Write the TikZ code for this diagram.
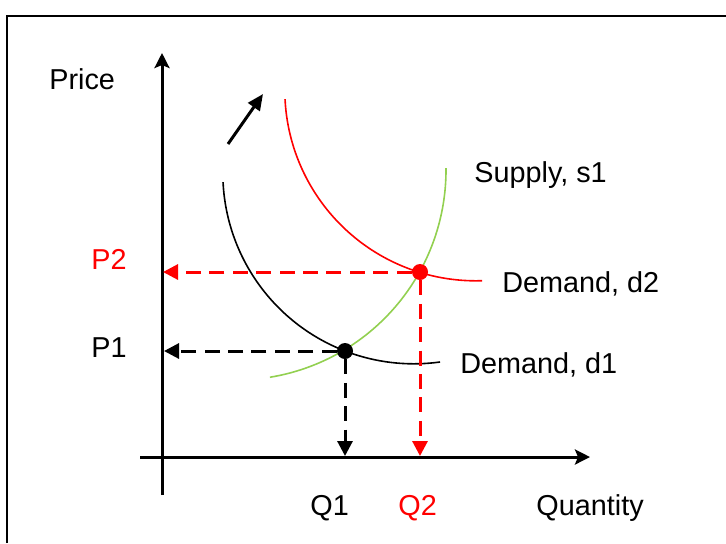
\documentclass[tikz,border=0pt]{standalone}
\usepackage{fontspec}
\setmainfont{Liberation Sans}
\usetikzlibrary{arrows.meta}
\definecolor{supplygreen}{RGB}{146,208,80}

\begin{document}
\begin{tikzpicture}[x=0.5pt, y=-0.5pt, font=\fontsize{14.4}{17}\selectfont,
  lbl/.style={anchor=base west, inner sep=0pt},
  axisline/.style={line width=1.5pt, -{Stealth[length=7.5pt, width=7.5pt, inset=1.5pt]}},
  guide/.style={line width=1.5pt, dash pattern=on 7.5pt off 4.2pt, -{Triangle[length=7.5pt, width=7.5pt]}},
  demandline/.style={line width=0.8pt},
  dot/.style={circle, fill, inner sep=0pt, minimum size=8pt}]
\useasboundingbox (0,0) rectangle (726,543);
\draw[line width=1.2pt] (7,543) -- (7,16) -- (726,16);
% axes
\coordinate (ybot) at (162,495);
\coordinate (ytop) at (162,53);
\coordinate (xleft) at (140,457);
\coordinate (xright) at (590,457);
\draw[axisline] (ybot) -- (ytop);
\draw[axisline] (xleft) -- (xright);
% curves
\draw[demandline, supplygreen] plot[domain=80.7:-0.5, samples=60, smooth] ({236+210*cos(\x)}, {170+210*sin(\x)});
\draw[demandline] plot[domain=177.2:82.1, samples=60, smooth] ({413.8+191*cos(\x)}, {172.8+191*sin(\x)});
\draw[demandline, red] plot[domain=177.2:88.1, samples=60, smooth] ({475.8+191*cos(\x)}, {89.8+191*sin(\x)});
% shift of demand
\coordinate (shiftfrom) at (228,144);
\coordinate (shiftto) at (263,94);
\draw[line width=1.5pt, -{Triangle[length=8pt, width=7pt]}] (shiftfrom) -- (shiftto);
% equilibria
\node[dot] (e1) at (345,351) {};
\node[dot, red] (e2) at (420,272) {};
\coordinate (p1axis) at (164,351);
\coordinate (q1axis) at (345,456);
\coordinate (p2axis) at (163,272);
\coordinate (q2axis) at (420,456);
\draw[guide] (e1) -- (p1axis);
\draw[guide] (e1) -- (q1axis);
\draw[guide, red] (e2) -- (p2axis);
\draw[guide, red] (e2) -- (q2axis);
% labels
\node[lbl] (price) at (49,89) {Price};
\node[lbl, red] (p2) at (91,269) {P2};
\node[lbl] (p1) at (91,357) {P1};
\node[lbl] (q1) at (310,515) {Q1};
\node[lbl, red] (q2) at (398,515) {Q2};
\node[lbl] (qty) at (536,515) {Quantity};
\node[lbl] (supplylbl) at (474,182) {Supply, s1};
\node[lbl] (d2lbl) at (502,292) {Demand, d2};
\node[lbl] (d1lbl) at (460,373) {Demand, d1};
\end{tikzpicture}
\end{document}
